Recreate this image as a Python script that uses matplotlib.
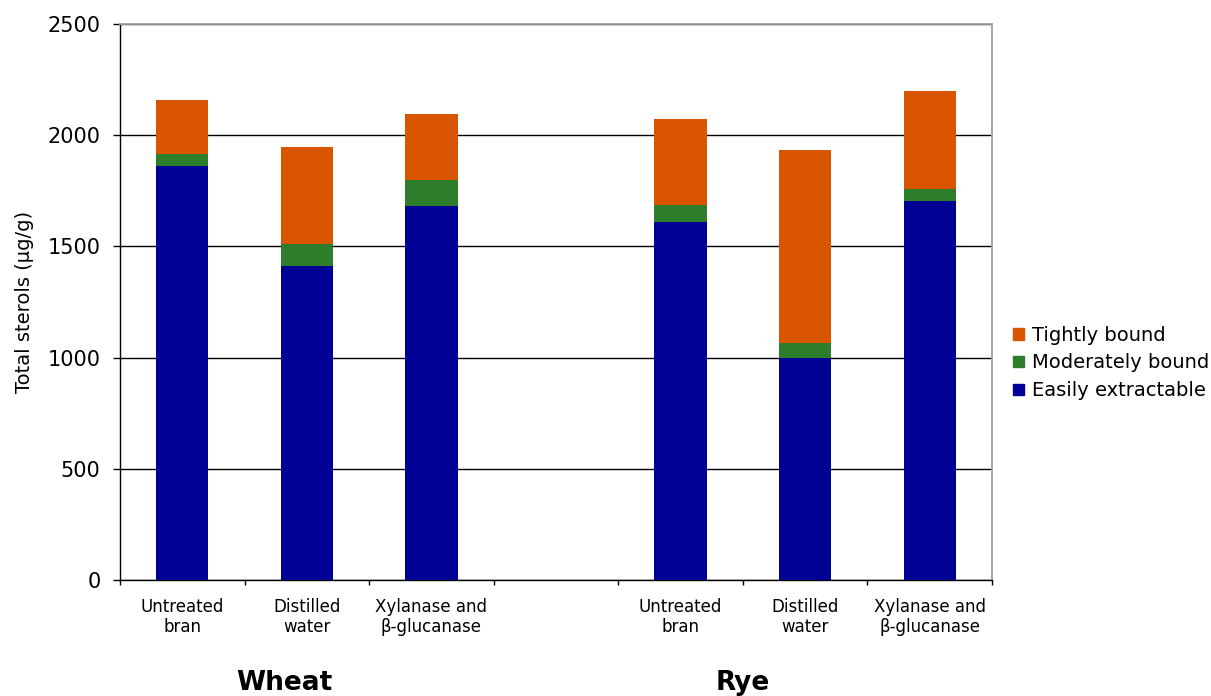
import matplotlib
matplotlib.use("Agg")
import matplotlib.pyplot as plt
import numpy as np
from matplotlib.patches import Patch
import matplotlib.transforms as mtransforms

plt.rcParams['font.family'] = ['DejaVu Sans']

categories = ["Untreated\nbran", "Distilled\nwater", "Xylanase and\nβ-glucanase", "",
              "Untreated\nbran", "Distilled\nwater", "Xylanase and\nβ-glucanase"]
easily = [1863, 1413, 1682, 0, 1611, 1000, 1705]
moderately = [53, 99, 117, 0, 76, 67, 54]
tightly = [242, 436, 297, 0, 386, 867, 440]
groups = ["Wheat", "Rye"]
series_names = ["Easily extractable", "Moderately bound", "Tightly bound"]
colors = ["#000094", "#2E7D2A", "#D95500"]

fig = plt.figure(figsize=(12.11, 6.96), dpi=100)
ax = fig.add_axes([120/1211, 1-580/696, (992-120)/1211, (580-24)/696])

x = np.arange(len(categories))
w = 0.42
mask = [c != "" for c in categories]
xs = x[mask]
e = np.array(easily)[mask]
m = np.array(moderately)[mask]
t = np.array(tightly)[mask]
ax.bar(xs, e, w, color=colors[0], zorder=3)
ax.bar(xs, m, w, bottom=e, color=colors[1], zorder=3)
ax.bar(xs, t, w, bottom=e + m, color=colors[2], zorder=3)

ax.set_xlim(-0.5, len(categories) - 0.5)
ax.set_ylim(0, 2500)
ax.set_yticks(np.arange(0, 2501, 500))
ax.tick_params(axis='y', labelsize=15, length=5, direction='out', width=1, pad=9)
ax.yaxis.grid(True, color='black', linewidth=1, zorder=0)
ax.set_axisbelow(True)

ax.set_xticks(np.arange(-0.5, len(categories), 1.0))
ax.set_xticklabels([])
ax.tick_params(axis='x', which='major', length=3.5, direction='out', width=1)
ax.set_xticks(x, minor=True)
ax.set_xticklabels(categories, minor=True, fontsize=12, linespacing=1.15)
ax.tick_params(axis='x', which='minor', length=0, pad=13)

ax.set_ylabel("Total sterols (µg/g)", fontsize=14, labelpad=10)

for s in ['left', 'bottom']:
    ax.spines[s].set_color('black')
    ax.spines[s].set_linewidth(1)
for s in ['top', 'right']:
    ax.spines[s].set_color('#A0A0A0')
    ax.spines[s].set_linewidth(1.3)

trans = mtransforms.blended_transform_factory(ax.transData, fig.transFigure)
ax.text(0.82, 1 - 683/696, groups[0], transform=trans, ha='center', va='center',
        fontsize=19, fontweight='bold')
ax.text(4.5, 1 - 683/696, groups[1], transform=trans, ha='center', va='center',
        fontsize=19, fontweight='bold')

handles = [Patch(color=colors[i], label=series_names[i]) for i in [2, 1, 0]]
fig.legend(handles=handles, loc='center left', bbox_to_anchor=(1009/1211, 1 - 363/696),
           frameon=False, fontsize=14, handlelength=0.55, handleheight=0.55,
           handletextpad=0.45, labelspacing=0.45, borderaxespad=0, borderpad=0.2)

fig.savefig("out.png", dpi=100)
